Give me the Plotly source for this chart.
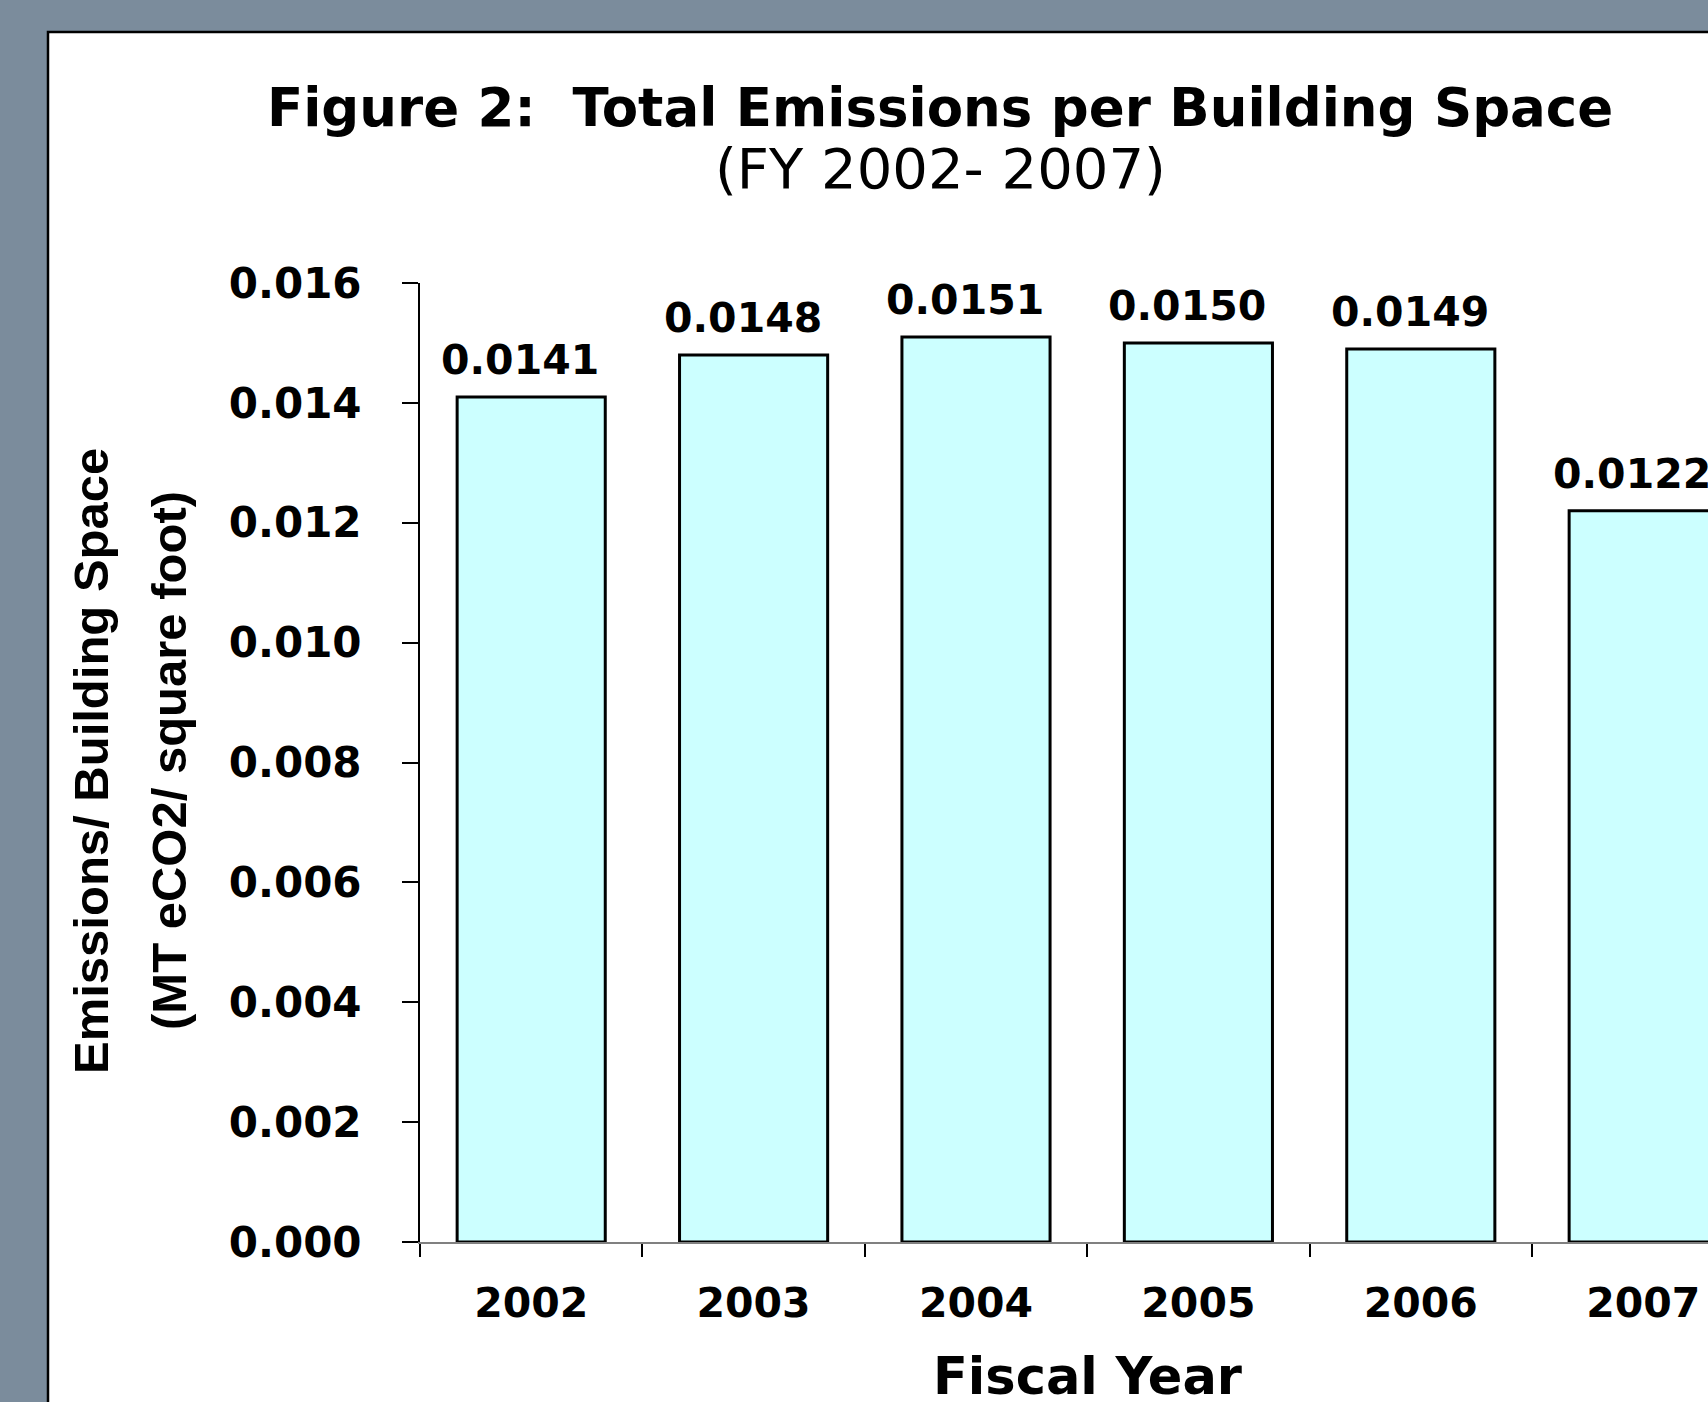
import plotly.graph_objects as go

# Emissions per building space, fiscal years 2002-2007
years = ["2002", "2003", "2004", "2005", "2006", "2007"]
emissions = [0.0141, 0.0148, 0.0151, 0.0150, 0.0149, 0.0122]
y_ticks = [0.000, 0.002, 0.004, 0.006, 0.008, 0.010, 0.012, 0.014, 0.016]
y_tick_text = [f"{v:.3f}" for v in y_ticks]

W, H = 1708, 1402
# plot-area box in pixels
L, R, T, B = 420, 1708, 283, 1242
CAT_W = 222.4  # pixel width of one category slot


def xp(px):
    return (px - L) / (R - L)


def yp(py):
    return (B - py) / (B - T)


FONT = "DejaVu Sans, Verdana, Arial, sans-serif"
ARIAL = "Liberation Sans, Arial, sans-serif"

fig = go.Figure()
fig.add_bar(
    x=years,
    y=emissions,
    marker=dict(color="#CCFFFF", line=dict(color="black", width=3)),
    hoverinfo="skip",
)

# background panel with border
fig.add_shape(type="rect", xref="paper", yref="paper", layer="below",
              x0=xp(48), x1=xp(W + 20), y0=yp(H + 20), y1=yp(32),
              fillcolor="white", line=dict(color="black", width=2.5))

annotations = []
# value labels over bars
for i, v in enumerate(emissions):
    annotations.append(dict(
        x=i, y=v, xref="x", yref="y", text=f"{v:.4f}", showarrow=False,
        xanchor="center", yanchor="bottom", xshift=-11, yshift=11,
        font=dict(family=FONT, size=41, color="black", weight="bold"),
    ))

# titles
annotations.append(dict(
    x=xp(940), y=yp(107), xref="paper", yref="paper",
    text="Figure 2:  Total Emissions per Building Space", showarrow=False,
    xanchor="center", yanchor="middle",
    font=dict(family=FONT, size=53, color="black", weight="bold"),
))
annotations.append(dict(
    x=xp(940), y=yp(168), xref="paper", yref="paper",
    text="(FY 2002- 2007)", showarrow=False,
    xanchor="center", yanchor="middle",
    font=dict(family=FONT, size=56, color="black"),
))
# axis titles
annotations.append(dict(
    x=2.5, y=yp(1376), xref="x", yref="paper",
    text="Fiscal Year", showarrow=False,
    xanchor="center", yanchor="middle",
    font=dict(family=FONT, size=51, color="black", weight="bold"),
))
for line, cx in (("Emissions/ Building Space", 91), ("(MT eCO2/ square foot)", 169)):
    annotations.append(dict(
        x=xp(cx), y=yp(761), xref="paper", yref="paper",
        text=line, showarrow=False, textangle=-90,
        xanchor="center", yanchor="middle",
        font=dict(family=ARIAL, size=49, color="black", weight="bold"),
    ))

fig.update_layout(
    width=W, height=H, autosize=False,
    margin=dict(l=L, r=W - R, t=T, b=H - B, pad=0),
    paper_bgcolor="#7b8c9c",
    plot_bgcolor="white",
    showlegend=False,
    bargap=0.334,
    annotations=annotations,
    xaxis=dict(
        type="category",
        range=[-0.5, -0.5 + (R - L) / CAT_W],
        tickson="boundaries",
        ticks="outside", ticklen=13, tickwidth=2, tickcolor="black",
        showline=True, linecolor="#808080", linewidth=2,
        showgrid=False, zeroline=False,
        tickfont=dict(family=FONT, size=41, color="black", weight="bold"),
        ticklabelstandoff=24,
        fixedrange=True,
    ),
    yaxis=dict(
        range=[0, 0.016],
        tickvals=y_ticks, ticktext=y_tick_text,
        ticks="outside", ticklen=16, tickwidth=2, tickcolor="black",
        showline=True, linecolor="black", linewidth=2,
        showgrid=False, zeroline=False,
        tickfont=dict(family=FONT, size=42, color="black", weight="bold"),
        ticklabelstandoff=32,
        fixedrange=True,
    ),
)

fig.write_html("out.html", config=dict(displayModeBar=False))
